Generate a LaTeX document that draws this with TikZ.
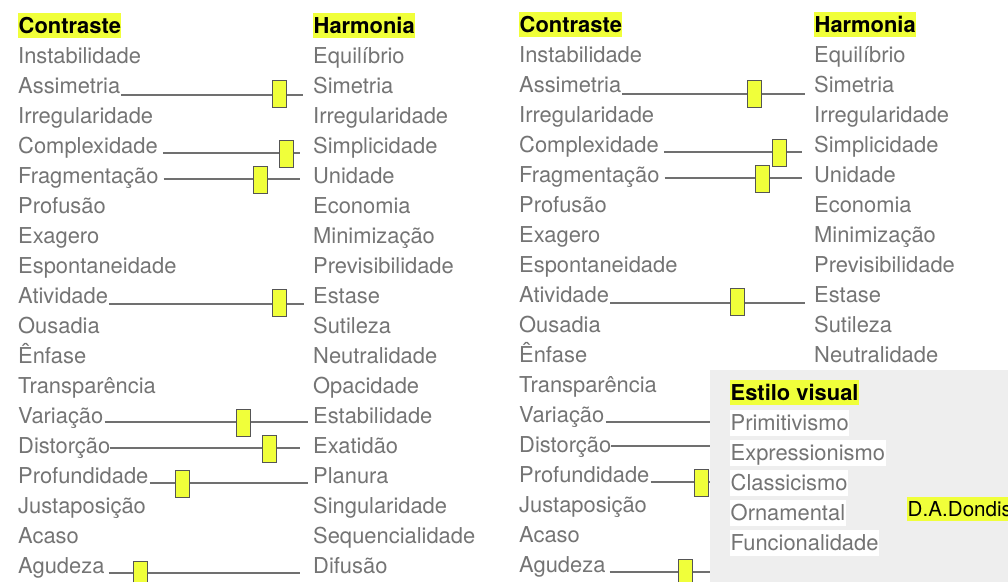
\documentclass[tikz,border=0pt]{standalone}
\usepackage{fontspec}
\setmainfont{TeX Gyre Heros}
\definecolor{wordgray}{RGB}{116,116,116}
\definecolor{marker}{RGB}{240,255,58}
\definecolor{panelgray}{RGB}{238,238,238}
\definecolor{trackgray}{RGB}{112,112,112}
\definecolor{knobedge}{RGB}{85,85,85}

\begin{document}
\begin{tikzpicture}[x=1pt,y=-1pt,
	word/.style={anchor=base west,inner sep=0pt,text=wordgray,font=\fontsize{21.9}{26}\selectfont},
	head/.style={anchor=base west,inner xsep=0.5pt,inner ysep=0pt,text height=20.5pt,text depth=4.5pt,fill=marker,font=\fontsize{21.9}{26}\selectfont\bfseries},
	chip/.style={word,fill=white,inner xsep=0.5pt,inner ysep=0pt,text height=20pt,text depth=6pt},
	knob/.style={draw=knobedge,fill=marker,line width=0.9pt,minimum width=14pt,minimum height=27pt,inner sep=0pt},
	track/.style={draw=trackgray,line width=1.1pt}]
	\useasboundingbox (0,0) rectangle (1008,581);
	% left panel, contrast column
	\node[head] (cA0) at (18,33) {Contraste};
	\node[word] (cA1) at (18,63) {Instabilidade};
	\node[word] (cA2) at (18,93) {Assimetria};
	\node[word] (cA3) at (18,123) {Irregularidade};
	\node[word] (cA4) at (18,153) {Complexidade};
	\node[word] (cA5) at (18,183) {Fragmentação};
	\node[word] (cA6) at (18,213) {Profusão};
	\node[word] (cA7) at (18,243) {Exagero};
	\node[word] (cA8) at (18,273) {Espontaneidade};
	\node[word] (cA9) at (18,303) {Atividade};
	\node[word] (cA10) at (18,333) {Ousadia};
	\node[word] (cA11) at (18,363) {Ênfase};
	\node[word] (cA12) at (18,393) {Transparência};
	\node[word] (cA13) at (18,423) {Variação};
	\node[word] (cA14) at (18,453) {Distorção};
	\node[word] (cA15) at (18,483) {Profundidade};
	\node[word] (cA16) at (18,513) {Justaposição};
	\node[word] (cA17) at (18,543) {Acaso};
	\node[word] (cA18) at (18,573) {Agudeza};
	% left panel, harmony column
	\node[head] (hA0) at (313,33) {Harmonia};
	\node[word] (hA1) at (313,63) {Equilíbrio};
	\node[word] (hA2) at (313,93) {Simetria};
	\node[word] (hA3) at (313,123) {Irregularidade};
	\node[word] (hA4) at (313,153) {Simplicidade};
	\node[word] (hA5) at (313,183) {Unidade};
	\node[word] (hA6) at (313,213) {Economia};
	\node[word] (hA7) at (313,243) {Minimização};
	\node[word] (hA8) at (313,273) {Previsibilidade};
	\node[word] (hA9) at (313,303) {Estase};
	\node[word] (hA10) at (313,333) {Sutileza};
	\node[word] (hA11) at (313,363) {Neutralidade};
	\node[word] (hA12) at (313,393) {Opacidade};
	\node[word] (hA13) at (313,423) {Estabilidade};
	\node[word] (hA14) at (313,453) {Exatidão};
	\node[word] (hA15) at (313,483) {Planura};
	\node[word] (hA16) at (313,513) {Singularidade};
	\node[word] (hA17) at (313,543) {Sequencialidade};
	\node[word] (hA18) at (313,573) {Difusão};
	% left panel sliders: end of track, track, knob
	\coordinate (eA2) at (303,95);
	\coordinate (eA4) at (300,153);
	\coordinate (eA5) at (300,179);
	\coordinate (eA9) at (304,304);
	\coordinate (eA13) at (308,422);
	\coordinate (eA14) at (300,448);
	\coordinate (eA15) at (308,483);
	\coordinate (eA18) at (300,573);
	\draw[track] ([xshift=1pt]cA2.east |- eA2) -- (eA2);
	\draw[track] ([xshift=5pt]cA4.east |- eA4) -- (eA4);
	\draw[track] ([xshift=5pt]cA5.east |- eA5) -- (eA5);
	\draw[track] ([xshift=1pt]cA9.east |- eA9) -- (eA9);
	\draw[track] ([xshift=1pt]cA13.east |- eA13) -- (eA13);
	\draw[track] (cA14.east |- eA14) -- (eA14);
	\draw[track] ([xshift=1pt]cA15.east |- eA15) -- (eA15);
	\draw[track] ([xshift=4pt]cA18.east |- eA18) -- (eA18);
	\node[knob] (kA2) at (279,94) {};
	\node[knob] (kA4) at (286,153.5) {};
	\node[knob] (kA5) at (260,179.5) {};
	\node[knob] (kA9) at (279,303) {};
	\node[knob] (kA13) at (243,422.5) {};
	\node[knob] (kA14) at (269,448.5) {};
	\node[knob] (kA15) at (182,483.5) {};
	\node[knob] (kA18) at (140,574.5) {};
	% right panel, contrast column
	\node[head] (cB0) at (519,32) {Contraste};
	\node[word] (cB1) at (519,62) {Instabilidade};
	\node[word] (cB2) at (519,92) {Assimetria};
	\node[word] (cB3) at (519,122) {Irregularidade};
	\node[word] (cB4) at (519,152) {Complexidade};
	\node[word] (cB5) at (519,182) {Fragmentação};
	\node[word] (cB6) at (519,212) {Profusão};
	\node[word] (cB7) at (519,242) {Exagero};
	\node[word] (cB8) at (519,272) {Espontaneidade};
	\node[word] (cB9) at (519,302) {Atividade};
	\node[word] (cB10) at (519,332) {Ousadia};
	\node[word] (cB11) at (519,362) {Ênfase};
	\node[word] (cB12) at (519,392) {Transparência};
	\node[word] (cB13) at (519,422) {Variação};
	\node[word] (cB14) at (519,452) {Distorção};
	\node[word] (cB15) at (519,482) {Profundidade};
	\node[word] (cB16) at (519,512) {Justaposição};
	\node[word] (cB17) at (519,542) {Acaso};
	\node[word] (cB18) at (519,572) {Agudeza};
	% right panel, harmony column
	\node[head] (hB0) at (814,32) {Harmonia};
	\node[word] (hB1) at (814,62) {Equilíbrio};
	\node[word] (hB2) at (814,92) {Simetria};
	\node[word] (hB3) at (814,122) {Irregularidade};
	\node[word] (hB4) at (814,152) {Simplicidade};
	\node[word] (hB5) at (814,182) {Unidade};
	\node[word] (hB6) at (814,212) {Economia};
	\node[word] (hB7) at (814,242) {Minimização};
	\node[word] (hB8) at (814,272) {Previsibilidade};
	\node[word] (hB9) at (814,302) {Estase};
	\node[word] (hB10) at (814,332) {Sutileza};
	\node[word] (hB11) at (814,362) {Neutralidade};
	% right panel sliders
	\coordinate (eB2) at (805,94);
	\coordinate (eB4) at (802,152);
	\coordinate (eB5) at (802,178);
	\coordinate (eB9) at (805,303);
	\coordinate (eB13) at (712,422);
	\coordinate (eB14) at (712,446);
	\coordinate (eB15) at (712,482);
	\coordinate (eB18) at (712,572);
	\draw[track] ([xshift=1pt]cB2.east |- eB2) -- (eB2);
	\draw[track] ([xshift=5pt]cB4.east |- eB4) -- (eB4);
	\draw[track] ([xshift=5pt]cB5.east |- eB5) -- (eB5);
	\draw[track] ([xshift=1pt]cB9.east |- eB9) -- (eB9);
	\draw[track] ([xshift=1pt]cB13.east |- eB13) -- (eB13);
	\draw[track] (cB14.east |- eB14) -- (eB14);
	\draw[track] ([xshift=1pt]cB15.east |- eB15) -- (eB15);
	\draw[track] ([xshift=4pt]cB18.east |- eB18) -- (eB18);
	\node[knob] (kB2) at (754,93.5) {};
	\node[knob] (kB4) at (779.5,152.5) {};
	\node[knob] (kB5) at (762,178.5) {};
	\node[knob] (kB9) at (737,301.5) {};
	\node[knob] (kB15) at (701,482.5) {};
	\node[knob] (kB18) at (685,572.5) {};
	% grey panel on top
	\fill[panelgray] (710,370) rectangle (1012,585);
	\node[head] (estilo) at (730,400) {Estilo visual};
	\node[chip] (prim) at (730,430) {Primitivismo};
	\node[chip] (expr) at (730,460) {Expressionismo};
	\node[chip] (class) at (730,490) {Classicismo};
	\node[chip] (orn) at (730,520) {Ornamental};
	\node[chip] (func) at (730,550) {Funcionalidade};
	\node[head,font=\fontsize{20.6}{24}\selectfont,text height=19pt,text depth=5pt] (dondis) at (907,516) {D.A.Dondis};
\end{tikzpicture}
\end{document}
